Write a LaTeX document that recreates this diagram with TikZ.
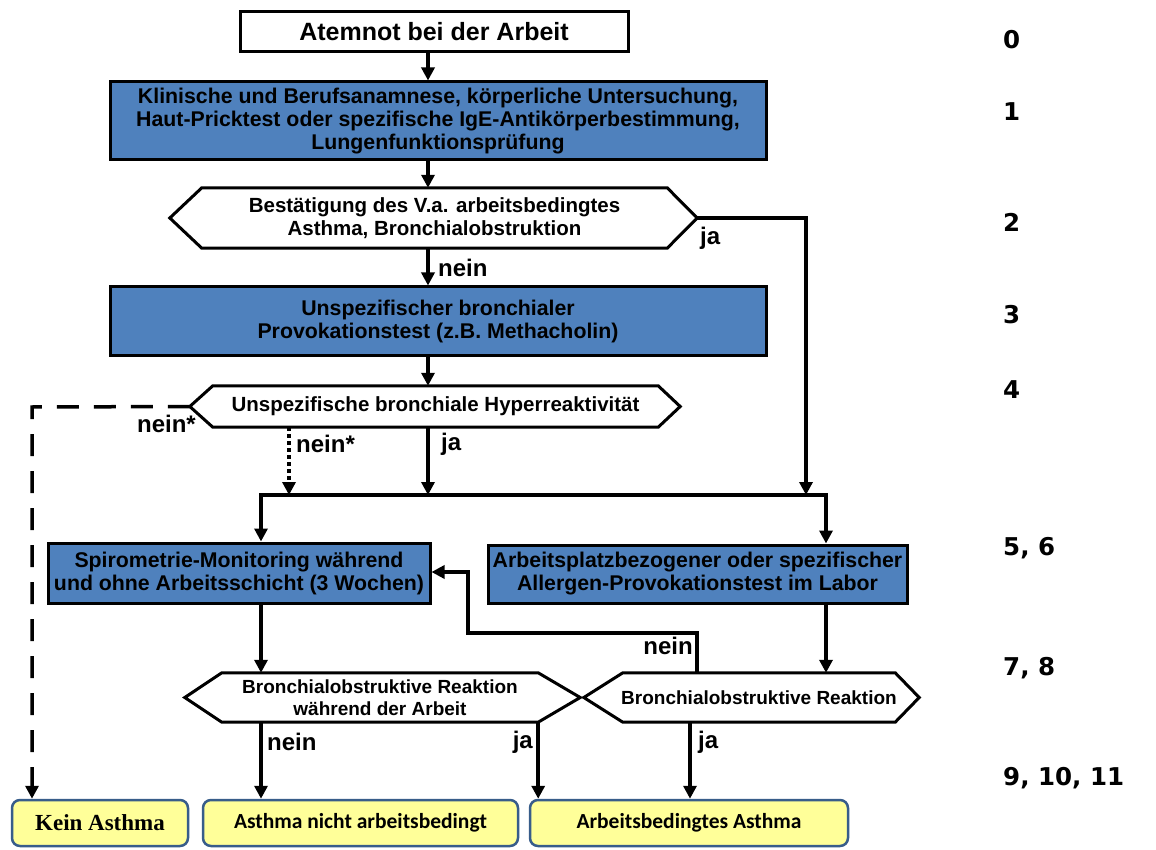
\documentclass[tikz,border=0pt]{standalone}
\usepackage{fontspec}
\setmainfont{Liberation Sans}
\newfontfamily\stepfont{DejaVu Sans}
\newfontfamily\resfont{Carlito}
\newfontfamily\resserif{Liberation Serif}
\usetikzlibrary{arrows.meta,calc}

\definecolor{stepblue}{RGB}{79,129,189}
\definecolor{resyellow}{RGB}{255,255,153}
\definecolor{resedge}{RGB}{56,93,138}

\tikzset{
  boxtext/.style={font=\bfseries\fontsize{21.3}{23}\selectfont, align=center, inner sep=0pt},
  startbox/.style={boxtext, draw=black, line width=3pt, fill=white,
    font=\bfseries\fontsize{25}{27}\selectfont},
  bluebox/.style={boxtext, draw=black, line width=3pt, fill=stepblue},
  hextext/.style={boxtext, font=\bfseries\fontsize{20.5}{23}\selectfont},
  hexline/.style={draw=black, line width=3pt, fill=white, line join=miter},
  resbox/.style={draw=resedge, line width=2.5pt, fill=resyellow, rounded corners=8pt,
    inner sep=0pt, font=\resfont\bfseries\fontsize{21.5}{23}\selectfont},
  conn/.style={line width=3.5pt, -{Triangle[length=13pt,width=13pt]}},
  dotline/.style={line width=3.5pt, dash pattern=on 3.5pt off 3.5pt,
    -{Triangle[length=13pt,width=13pt]}},
  dashline/.style={line width=3.5pt, dash pattern=on 22pt off 15pt,
    -{Triangle[length=13pt,width=13pt]}},
  lbl/.style={font=\bfseries\fontsize{24}{24}\selectfont, inner sep=0pt},
  stepno/.style={font=\stepfont\bfseries\fontsize{24.5}{25}\selectfont, anchor=west, inner sep=0pt},
}

\begin{document}
\begin{tikzpicture}[x=1pt, y=-1pt]
\useasboundingbox[fill=white] (0,0) rectangle (1156,850);

% column and junction coordinates
\coordinate (mainx) at (428,0);
\coordinate (jax) at (806,0);
\coordinate (brL) at (261,495);
\coordinate (brM) at (428,495);
\coordinate (brR) at (826,495);
\coordinate (dotx) at (289,495);
\coordinate (kx) at (32,407);
\coordinate (fb1) at (697,633);
\coordinate (fb2) at (468,633);
\coordinate (fb3) at (468,572);
\coordinate (ja2x) at (690,0);

% boxes
\node[startbox, minimum width=388, minimum height=40] (b0) at (434,32) {Atemnot bei der Arbeit};
\node[bluebox, minimum width=656, minimum height=78] (b1) at (438,121)
  {Klinische und Berufsanamnese, körperliche Untersuchung,\\
   Haut-Pricktest oder spezifische IgE-Antikörperbestimmung,\\
   Lungenfunktionsprüfung};

% decision 2
\node[hextext, minimum width=465, minimum height=60] (h2) at (434.5,218) {};
\draw[hexline] (h2.north west) -- (h2.north east) -- ($(h2.east)+(30,0)$) coordinate (h2r)
  -- (h2.south east) -- (h2.south west) -- ($(h2.west)+(-32,0)$) coordinate (h2l) -- cycle;
\node[hextext] (h2t) at (h2) {Bestätigung des V.a. arbeitsbedingtes\\Asthma, Bronchialobstruktion};

\node[bluebox, minimum width=656, minimum height=68] (b3) at (438,321)
  {Unspezifischer bronchialer\\Provokationstest (z.B. Methacholin)};

% decision 4
\node[hextext, minimum width=445, minimum height=41] (h4) at (435.5,406.5) {};
\draw[hexline] (h4.north west) -- (h4.north east) -- ($(h4.east)+(22,0)$) coordinate (h4r)
  -- (h4.south east) -- (h4.south west) -- ($(h4.west)+(-23,0)$) coordinate (h4l) -- cycle;
\node[hextext] (h4t) at (h4) {Unspezifische bronchiale Hyperreaktivität};

\node[bluebox, minimum width=382, minimum height=60] (b5) at (239,573)
  {Spirometrie-Monitoring während\\und ohne Arbeitsschicht (3 Wochen)};
\node[bluebox, minimum width=419, minimum height=58] (b6) at (697.5,574)
  {Arbeitsplatzbezogener oder spezifischer\\Allergen-Provokationstest im Labor};

% decisions 7 and 8
\node[hextext, minimum width=316, minimum height=49] (h7) at (380,697.5) {};
\draw[hexline] (h7.north west) -- (h7.north east) -- ($(h7.east)+(42,0)$) coordinate (h7r)
  -- (h7.south east) -- (h7.south west) -- ($(h7.west)+(-37,0)$) coordinate (h7l) -- cycle;
\node[hextext, font=\bfseries\fontsize{19}{22}\selectfont] (h7t) at (h7)
  {Bronchialobstruktive Reaktion\\während der Arbeit};

\node[hextext, minimum width=272, minimum height=49] (h8) at (759,697.5) {};
\draw[hexline] (h8.north west) -- (h8.north east) -- ($(h8.east)+(24,0)$) coordinate (h8r)
  -- (h8.south east) -- (h8.south west) -- ($(h8.west)+(-39,0)$) coordinate (h8l) -- cycle;
\node[hextext, font=\bfseries\fontsize{19}{22}\selectfont] (h8t) at (h8)
  {Bronchialobstruktive Reaktion};

% outcomes
\node[resbox, minimum width=176, minimum height=46, font=\resserif\bfseries\fontsize{23}{25}\selectfont]
  (r1) at (100,823) {Kein Asthma};
\node[resbox, minimum width=315, minimum height=46] (r2) at (360.5,823) {Asthma nicht arbeitsbedingt};
\node[resbox, minimum width=318, minimum height=46] (r3) at (689,823) {Arbeitsbedingtes Asthma};

% connectors
\draw[conn] (b0.south -| mainx) -- (b1.north -| mainx);
\draw[conn] (b1.south -| mainx) -- (h2.north -| mainx);
\draw[conn] (h2.south -| mainx) -- (b3.north -| mainx);
\draw[conn] (b3.south -| mainx) -- (h4.north -| mainx);
\draw[conn] (h2r) -- (h2r -| jax) -- (brR -| jax);
\draw[conn] (h4.south -| mainx) -- (brM);
\draw[dotline] (h4.south -| dotx) -- (dotx);
\draw[dashline] (h4l) -- (kx) -- (r1.north -| kx);
\draw[conn, line join=miter] (brM) -- (brL) -- (b5.north -| brL);
\draw[conn, line join=miter] (brM) -- (brR) -- (b6.north -| brR);
\draw[conn] (b5.south -| brL) -- (h7.north -| brL);
\draw[conn] (b6.south -| brR) -- (h8.north -| brR);
\draw[conn, line join=miter] (h8.north -| fb1) -- (fb1) -- (fb2) -- (fb3) -- (fb3 -| b5.east);
\draw[conn] (h7.south -| brL) -- (r2.north -| brL);
\draw[conn] (h7.south east) -- (h7.south east |- r3.north);
\draw[conn] (h8.south -| ja2x) -- (r3.north -| ja2x);

% branch labels
\node[lbl, anchor=west] (l1) at (700,238) {ja};
\node[lbl, anchor=west] (l2) at (438,268) {nein};
\node[lbl, anchor=east] (l3) at (196,424) {nein*};
\node[lbl, anchor=west] (l4) at (296,444) {nein*};
\node[lbl, anchor=west] (l5) at (441,444) {ja};
\node[lbl, anchor=east] (l6) at (693,646) {nein};
\node[lbl, anchor=west] (l7) at (267,742) {nein};
\node[lbl, anchor=east] (l8) at (533,742) {ja};
\node[lbl, anchor=west] (l9) at (698,742) {ja};

% step numbers
\node[stepno] (s0) at (1003,40) {0};
\node[stepno] (s1) at (1003,112) {1};
\node[stepno] (s2) at (1003,222) {2};
\node[stepno] (s3) at (1003,315) {3};
\node[stepno] (s4) at (1003,390) {4};
\node[stepno] (s5) at (1003,548) {5, 6};
\node[stepno] (s7) at (1003,668) {7, 8};
\node[stepno] (s9) at (1003,778) {9, 10, 11};
\end{tikzpicture}
\end{document}
